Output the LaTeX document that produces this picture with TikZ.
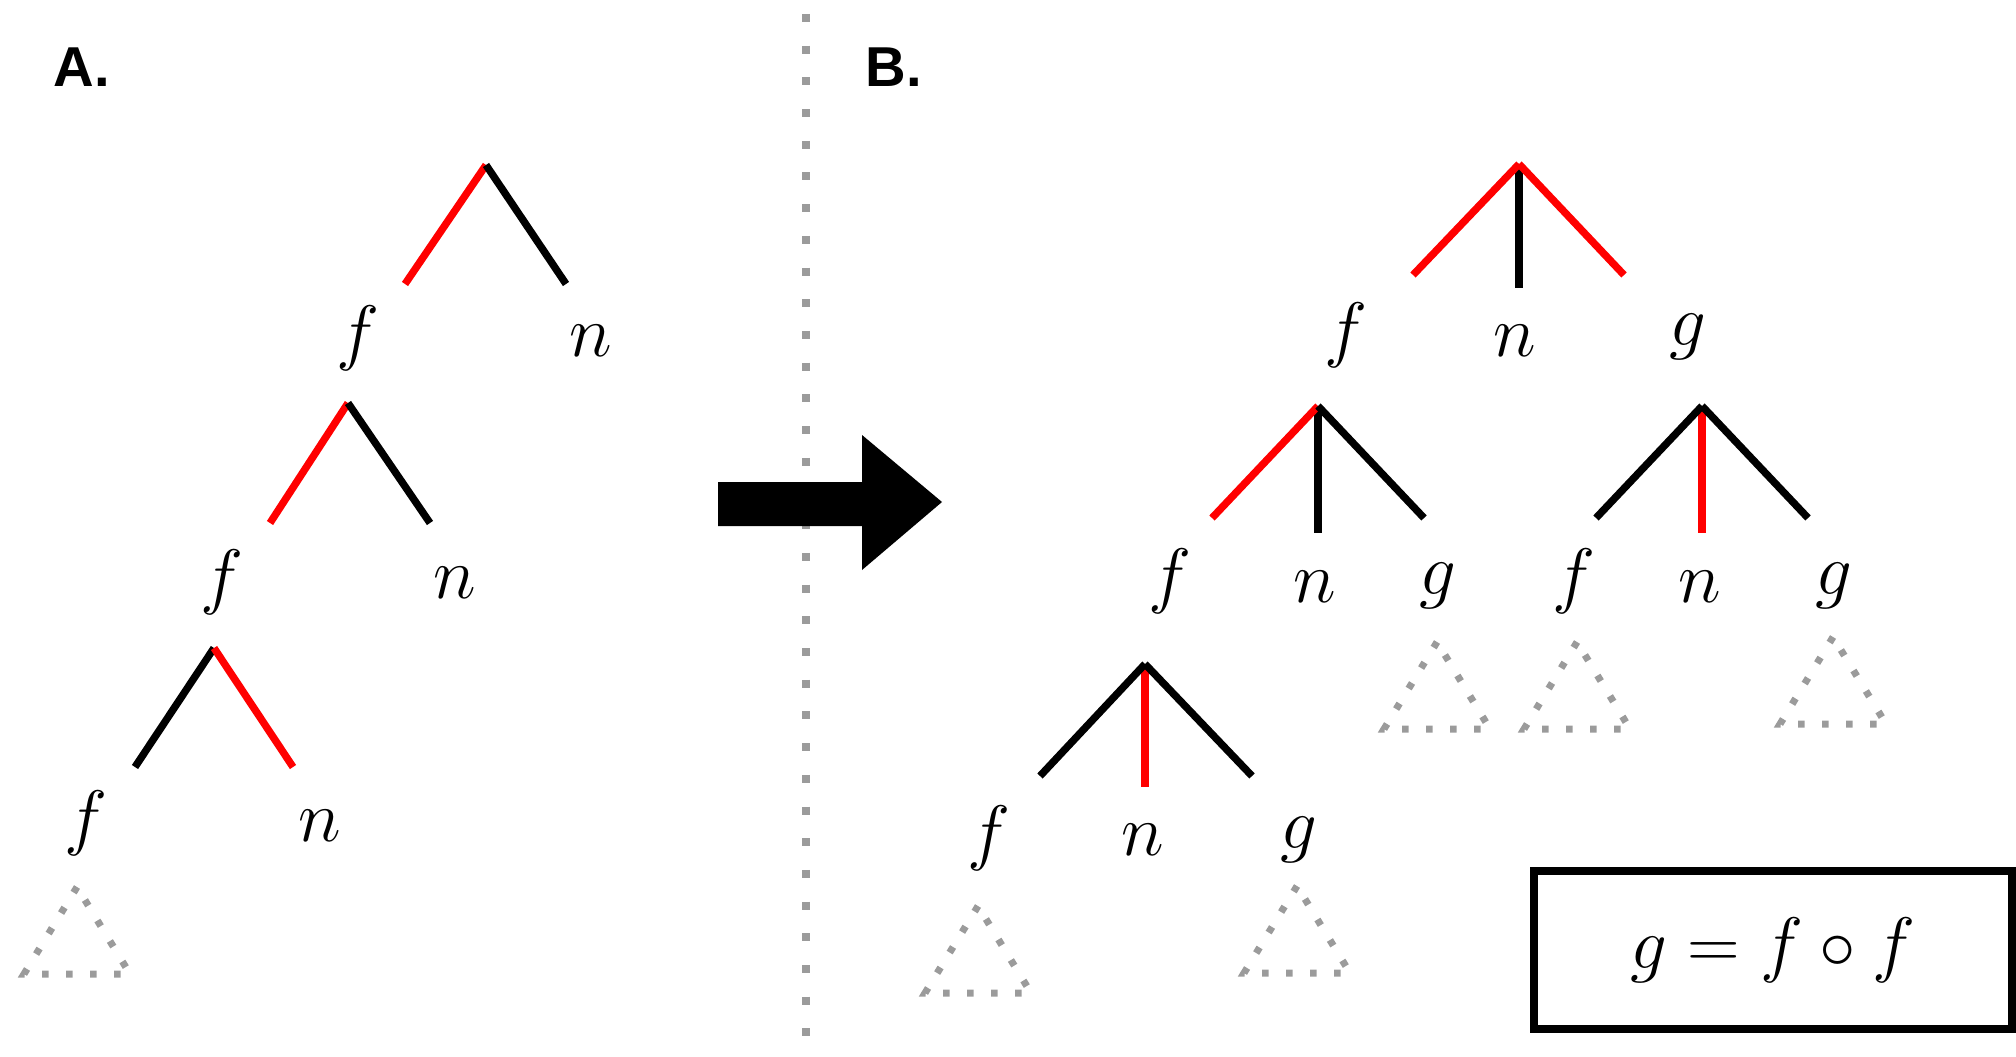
\documentclass[tikz,border=0pt]{standalone}
\usepackage{fontspec}
\setsansfont{Liberation Sans}
\usepackage{tikz}
\definecolor{ink}{HTML}{000000}
\definecolor{hotred}{HTML}{FF0000}
\definecolor{dotgray}{HTML}{9B9B9B}
\tikzset{
  sym/.style={font=\huge,inner sep=0pt},
  panel/.style={font=\sffamily\bfseries\fontsize{16}{19}\selectfont,inner sep=0pt},
  blkedge/.style={draw=ink,line width=0.074cm},
  rededge/.style={draw=hotred,line width=0.074cm},
  sepline/.style={draw=dotgray,line width=0.08cm,dash pattern=on 0.08cm off 0.237cm},
  subtri/.style={draw=dotgray,line width=0.07cm,dash pattern=on 0.065cm off 0.175cm},
  eqbox/.style={draw=ink,line width=0.08cm,minimum width=4.78cm,minimum height=1.58cm,
                inner sep=0pt,font=\huge},
  bigarr/.style={fill=ink}
}

\begin{document}
\begin{tikzpicture}[x=1cm,y=1cm]
  \useasboundingbox (0,0) rectangle (20.16,10.56);
  % panel A
  \node[panel] (pa) at (0.82,9.89) {A.};
  \node[sym] (fa1) at (3.58,7.18) {$f$};
  \node[sym] (na1) at (5.91,7.15) {$n$};
  \node[sym] (fa2) at (2.22,4.74) {$f$};
  \node[sym] (na2) at (4.55,4.73) {$n$};
  \node[sym] (fa3) at (0.86,2.33) {$f$};
  \node[sym] (na3) at (3.20,2.30) {$n$};
  \coordinate (ka1) at (4.86,8.91);
  \coordinate (ka1l) at (4.05,7.72);
  \coordinate (ka1r) at (5.66,7.72);
  \draw[rededge] (ka1) -- (ka1l);
  \draw[blkedge] (ka1) -- (ka1r);
  \coordinate (ka2) at (3.48,6.53);
  \coordinate (ka2l) at (2.70,5.33);
  \coordinate (ka2r) at (4.30,5.33);
  \draw[rededge] (ka2) -- (ka2l);
  \draw[blkedge] (ka2) -- (ka2r);
  \coordinate (ka3) at (2.14,4.08);
  \coordinate (ka3l) at (1.35,2.89);
  \coordinate (ka3r) at (2.93,2.89);
  \draw[blkedge] (ka3) -- (ka3l);
  \draw[rededge] (ka3) -- (ka3r);

  % separator and arrow between the panels
  \coordinate (septop) at (8.06,10.42);
  \coordinate (sepbot) at (8.06,0.04);
  \draw[sepline] (septop) -- (sepbot);
  \fill[bigarr] (7.18,5.30) -- (8.62,5.30) -- (8.62,4.86) -- (9.42,5.54)
    -- (8.62,6.21) -- (8.62,5.74) -- (7.18,5.74) -- cycle;

  % panel B
  \node[panel] (pb) at (8.94,9.89) {B.};
  \node[sym] (fb1) at (13.46,7.21) {$f$};
  \node[sym] (nb1) at (15.15,7.15) {$n$};
  \node[sym] (gb1) at (16.88,7.19) {$g$};
  \node[sym] (fb2) at (11.70,4.75) {$f$};
  \node[sym] (nb2) at (13.15,4.69) {$n$};
  \node[sym] (gb2) at (14.38,4.70) {$g$};
  \node[sym] (fb3) at (15.74,4.75) {$f$};
  \node[sym] (nb3) at (17.00,4.69) {$n$};
  \node[sym] (gb3) at (18.34,4.70) {$g$};
  \node[sym] (fb4) at (9.89,2.18) {$f$};
  \node[sym] (nb4) at (11.43,2.16) {$n$};
  \node[sym] (gb4) at (12.99,2.16) {$g$};
  \coordinate (kb1) at (15.19,8.92);
  \coordinate (kb1l) at (14.13,7.81);
  \coordinate (kb1m) at (15.19,7.68);
  \coordinate (kb1r) at (16.24,7.81);
  \draw[blkedge] (kb1) -- (kb1m);
  \draw[rededge] (kb1) -- (kb1l);
  \draw[rededge] (kb1) -- (kb1r);
  \coordinate (kb2) at (13.18,6.50);
  \coordinate (kb2l) at (12.12,5.38);
  \coordinate (kb2m) at (13.18,5.23);
  \coordinate (kb2r) at (14.24,5.38);
  \draw[blkedge] (kb2) -- (kb2m);
  \draw[rededge] (kb2) -- (kb2l);
  \draw[blkedge] (kb2) -- (kb2r);
  \coordinate (kb3) at (17.02,6.50);
  \coordinate (kb3l) at (15.96,5.38);
  \coordinate (kb3m) at (17.02,5.23);
  \coordinate (kb3r) at (18.08,5.38);
  \draw[rededge] (kb3) -- (kb3m);
  \draw[blkedge] (kb3) -- (kb3l);
  \draw[blkedge] (kb3) -- (kb3r);
  \coordinate (kb4) at (11.45,3.92);
  \coordinate (kb4l) at (10.40,2.80);
  \coordinate (kb4m) at (11.45,2.69);
  \coordinate (kb4r) at (12.52,2.80);
  \draw[rededge] (kb4) -- (kb4m);
  \draw[blkedge] (kb4) -- (kb4l);
  \draw[blkedge] (kb4) -- (kb4r);

  % collapsed subtrees
  \foreach \x/\y in {0.77/1.69, 14.37/4.14, 15.77/4.14, 18.33/4.19, 9.78/1.50, 12.97/1.70}
    \draw[subtri] (\x,\y) -- ++(-0.53,-0.87) -- ++(1.06,0) -- cycle;

  \node[eqbox] (eq) at (17.73,1.06) {$g = f \circ f$};
\end{tikzpicture}
\end{document}
